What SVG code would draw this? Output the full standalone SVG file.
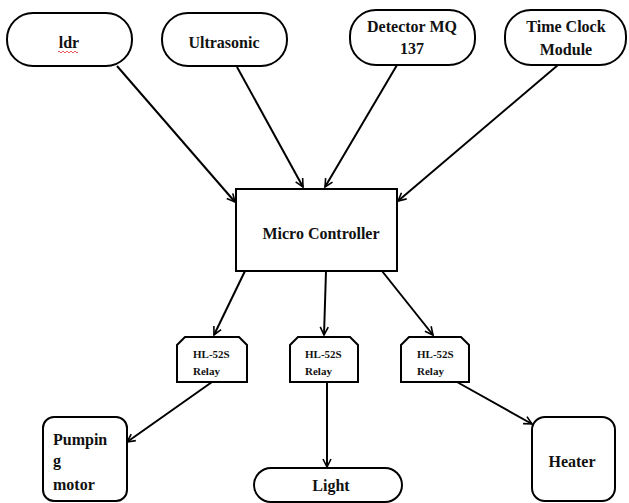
<svg xmlns="http://www.w3.org/2000/svg" width="629" height="503" viewBox="0 0 629 503">
<style>
.box{fill:#fff;stroke:#000;stroke-width:2}
.t{font-family:'Liberation Serif','DejaVu Serif',serif;font-weight:bold;font-size:16px;fill:#111}
.c{text-anchor:middle}
.s{font-size:11px}
.e{fill:none;stroke:#000;stroke-width:2;marker-end:url(#arr)}
</style>
<defs>
<marker id="arr" viewBox="0 0 10 10" refX="9" refY="5" markerWidth="5" markerHeight="5" orient="auto" markerUnits="strokeWidth">
<path d="M1,1 L9,5 L1,9" fill="none" stroke="#000" stroke-width="1.6"/>
</marker>
</defs>
<rect width="629" height="503" fill="#fff"/>
<g id="ldr">
<rect class="box" x="7" y="13" width="125" height="53" rx="26"/>
<text class="t c" x="69" y="48">ldr</text>
<path d="M58,52 q1,-2 2,0 t2,0 t2,0 t2,0 t2,0 t2,0 t2,0 t2,0 t2,0 t2,0" fill="none" stroke="#d33" stroke-width="0.8"/>
</g>
<g id="ultrasonic">
<rect class="box" x="162" y="13" width="125" height="53" rx="26"/>
<text class="t c" x="224" y="48">Ultrasonic</text>
</g>
<g id="detector">
<rect class="box" x="350" y="10" width="125" height="55" rx="26"/>
<text class="t c" x="412" y="32">Detector MQ</text>
<text class="t c" x="412" y="54">137</text>
</g>
<g id="timeclock">
<rect class="box" x="505" y="10" width="121" height="55" rx="26"/>
<text class="t c" x="566" y="32">Time Clock</text>
<text class="t c" x="566" y="55">Module</text>
</g>
<g id="micro">
<rect class="box" x="236" y="189" width="161" height="82"/>
<text class="t c" x="321" y="239">Micro Controller</text>
</g>
<g id="relay1">
<path class="box" d="M177,345 L185,337 L239,337 L247,345 L247,382 L177,382 Z"/>
<text class="t s" x="193" y="358">HL-52S</text>
<text class="t s" x="193" y="375">Relay</text>
</g>
<g id="relay2">
<path class="box" d="M290,345 L298,337 L350,337 L358,345 L358,382 L290,382 Z"/>
<text class="t s" x="305" y="358">HL-52S</text>
<text class="t s" x="305" y="375">Relay</text>
</g>
<g id="relay3">
<path class="box" d="M401,345 L409,337 L461,337 L469,345 L469,382 L401,382 Z"/>
<text class="t s" x="417" y="358">HL-52S</text>
<text class="t s" x="417" y="375">Relay</text>
</g>
<g id="pumping">
<rect class="box" x="43" y="417" width="84" height="84" rx="11"/>
<text class="t" x="53" y="445">Pumpin</text>
<text class="t" x="53" y="466">g</text>
<text class="t" x="53" y="490">motor</text>
</g>
<g id="light">
<rect class="box" x="254" y="468" width="148" height="34" rx="17"/>
<text class="t c" x="331" y="491">Light</text>
</g>
<g id="heater">
<rect class="box" x="532" y="417" width="83" height="84" rx="13"/>
<text class="t c" x="572" y="467">Heater</text>
</g>
<g id="connectors">
<line class="e" x1="117" y1="66" x2="235" y2="202"/>
<line class="e" x1="237" y1="67" x2="303" y2="187"/>
<line class="e" x1="397" y1="65" x2="325" y2="187"/>
<line class="e" x1="558" y1="65" x2="398" y2="201"/>
<line class="e" x1="245" y1="271" x2="214" y2="335"/>
<line class="e" x1="326" y1="271" x2="324" y2="335"/>
<line class="e" x1="382" y1="271" x2="433" y2="335"/>
<line class="e" x1="212" y1="382" x2="127" y2="442"/>
<line class="e" x1="327" y1="382" x2="327" y2="467"/>
<line class="e" x1="457" y1="382" x2="532" y2="424"/>
</g>
</svg>
